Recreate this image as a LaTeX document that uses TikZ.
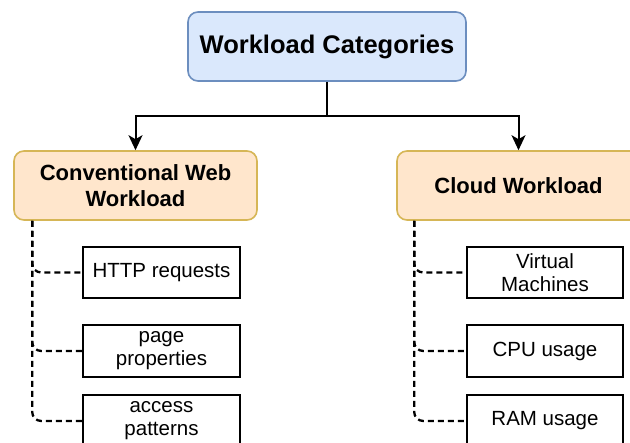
\documentclass[tikz,border=0pt]{standalone}
\usepackage{fontspec}
\setmainfont{Liberation Sans}
\usetikzlibrary{arrows.meta,calc}

\definecolor{catfill}{HTML}{DAE8FC}
\definecolor{catdraw}{HTML}{6C8EBF}
\definecolor{grpfill}{HTML}{FFE6CC}
\definecolor{grpdraw}{HTML}{D6B656}

\tikzset{
  catbox/.style={draw=catdraw, fill=catfill, line width=1.6pt, rounded corners=10pt,
    minimum width=278pt, minimum height=69pt, inner sep=0pt, align=center,
    font=\fontsize{25.5}{30}\selectfont\bfseries},
  grpbox/.style={draw=grpdraw, fill=grpfill, line width=1.6pt, rounded corners=10pt,
    minimum width=243pt, minimum height=69pt, inner sep=0pt, align=center,
    font=\fontsize{22}{25.5}\selectfont\bfseries},
  leafbox/.style={draw=black, fill=white, line width=1.8pt,
    minimum width=157pt, minimum height=51pt, inner sep=0pt, align=center,
    font=\fontsize{20.5}{23}\selectfont},
  arr/.style={draw=black, line width=2pt, -{Stealth[length=15pt,width=14pt,inset=4pt]}},
  dashcon/.style={draw=black, line width=2.3pt, dash pattern=on 6pt off 4pt,
    rounded corners=9pt},
}

\begin{document}
\begin{tikzpicture}[x=1pt, y=-1pt]
  \useasboundingbox (0,0) rectangle (630,443);
  \clip (0,0) rectangle (630,443);
  \fill[white] (0,0) rectangle (630,443);

  % root and the two workload groups
  \node[catbox] (root) at (327,46.5) {Workload Categories};
  \node[grpbox] (web) at (135.5,185.5) {Conventional Web\\Workload};
  \node[grpbox] (cloud) at (518.5,185.5) {Cloud Workload};

  % items of the web workload
  \node[leafbox] (http) at (161.5,272.5) {HTTP requests};
  \node[leafbox, minimum height=52pt] (page) at (161.5,351) {page\\properties};
  \node[leafbox, minimum height=52pt] (access) at (161.5,421) {access\\patterns};

  % items of the cloud workload
  \node[leafbox, minimum width=156pt] (vm) at (545,272.5) {Virtual\\Machines};
  \node[leafbox, minimum width=156pt, minimum height=52pt] (cpu) at (545,351) {CPU usage};
  \node[leafbox, minimum width=156pt, minimum height=52pt] (ram) at (545,421) {RAM usage};

  % tree arrows from the root
  \coordinate (split) at (327,116);
  \draw[arr] (root.south) -- (split) -| (web.north);
  \draw[arr] (root.south) -- (split) -| (cloud.north);

  % dashed links to the items
  \coordinate (webfoot) at ($(web.south west)+(19,0)$);
  \coordinate (cloudfoot) at ($(cloud.south west)+(18,0)$);
  \foreach \leaf in {http,page,access}
    \draw[dashcon] (webfoot) |- (\leaf.west);
  \foreach \leaf in {vm,cpu,ram}
    \draw[dashcon] (cloudfoot) |- (\leaf.west);
\end{tikzpicture}
\end{document}
